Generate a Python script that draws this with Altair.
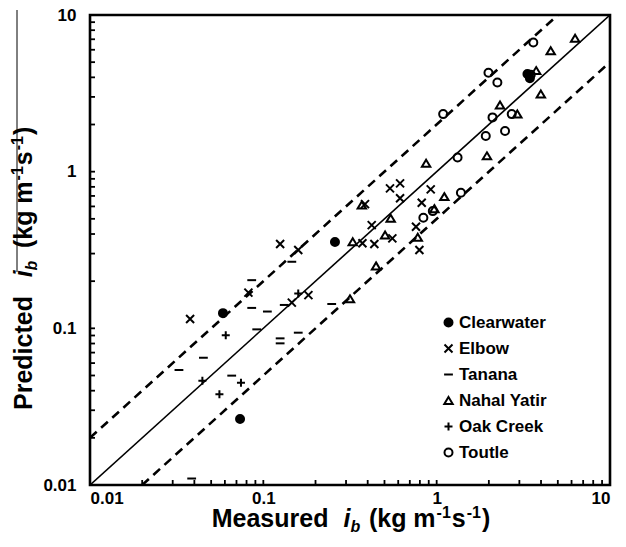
import altair as alt
import pandas as pd

# ---------------- data ----------------
sites = ["Clearwater", "Elbow", "Tanana", "Nahal Yatir", "Oak Creek", "Toutle"]

clear_x = [0.0585, 0.259, 0.0734, 3.34, 3.45]
clear_y = [0.125, 0.356, 0.0264, 4.20, 3.95]

elbow_x = [0.0378, 0.125, 0.159, 0.082, 0.182, 0.146, 0.538, 0.615, 0.924, 0.615,
           0.386, 0.820, 0.422, 0.760, 0.373, 0.437, 0.555, 0.795]
elbow_y = [0.1147, 0.345, 0.316, 0.169, 0.163, 0.146, 0.782, 0.842, 0.771, 0.676,
           0.621, 0.634, 0.456, 0.445, 0.349, 0.345, 0.375, 0.316]

tanana_x = [0.146, 0.0857, 0.0857, 0.1055, 0.132, 0.248, 0.0916, 0.125, 0.125,
            0.159, 0.0451, 0.0326, 0.0657, 0.0386]
tanana_y = [0.266, 0.203, 0.135, 0.128, 0.141, 0.143, 0.0985, 0.0863, 0.0802,
            0.0938, 0.0649, 0.0542, 0.0499, 0.0110]

nahal_x = [0.869, 1.107, 0.370, 0.543, 0.97, 0.328, 0.504, 0.778, 0.447, 0.316,
           6.29, 4.55, 3.75, 3.99, 2.32, 2.92, 1.95]
nahal_y = [1.13, 0.692, 0.612, 0.504, 0.58, 0.357, 0.394, 0.381, 0.250, 0.154,
           7.09, 5.91, 4.41, 3.13, 2.66, 2.33, 1.26]

oak_x = [0.159, 0.0607, 0.0445, 0.0743, 0.0558]
oak_y = [0.167, 0.0902, 0.0463, 0.045, 0.0379]

toutle_x = [0.838, 0.95, 1.38, 1.32, 1.09, 1.99, 2.24, 3.61, 3.49, 2.10, 2.71, 2.48, 1.92]
toutle_y = [0.508, 0.56, 0.733, 1.23, 2.33, 4.28, 3.71, 6.68, 4.15, 2.22, 2.33, 1.82, 1.69]

axis_values = [0.01, 0.1, 1, 10]
minor_ticks = [m * d for d in [0.01, 0.1, 1] for m in range(2, 10)] + [0.1, 1]

# reference lines: 1:1, 2:1 and 1:2
line_11_x = [0.01, 10]
line_11_y = [0.01, 10]
line_up_x = [0.01, 5]
line_up_y = [0.02, 10]
line_lo_x = [0.02, 10]
line_lo_y = [0.01, 5]

# ---------------- build tables ----------------
rows = []
for s, xs, ys in zip(sites,
                     [clear_x, elbow_x, tanana_x, nahal_x, oak_x, toutle_x],
                     [clear_y, elbow_y, tanana_y, nahal_y, oak_y, toutle_y]):
    for a, b in zip(xs, ys):
        rows.append({"site": s, "x": a, "y": b})
df = pd.DataFrame(rows)

FONT = "Liberation Sans"
W, H = 520, 470
L, T = 90, 15

xscale = alt.Scale(type="log", domain=[0.01, 10], nice=False)
yscale = alt.Scale(type="log", domain=[0.01, 10], nice=False)

shape_range = ["circle",
               "M-1,-1L1,1M-1,1L1,-1",
               "M-1.1,0L1.1,0",
               "M0,-0.9L1.05,0.85L-1.05,0.85Z",
               "M-1,0L1,0M0,-1L0,1",
               "circle"]
fill_range = ["black", "transparent", "transparent", "transparent", "transparent", "transparent"]
stroke_range = ["black"] * 6

legend = alt.Legend(orient="none", legendX=350, legendY=299, title=None,
                    labelFont=FONT, labelFontWeight="bold", labelFontSize=17,
                    labelColor="black", symbolSize=64, symbolStrokeWidth=2,
                    rowPadding=8, labelOffset=2, padding=0)

xaxis = alt.Axis(values=axis_values, format="~g", ticks=False, domain=False, grid=False,
                 labelFont=FONT, labelFontWeight="bold", labelFontSize=17,
                 labelColor="black", labelPadding=5, title=None)
yaxis = alt.Axis(values=axis_values, format="~g", ticks=False, domain=False, grid=False,
                 labelFont=FONT, labelFontWeight="bold", labelFontSize=17,
                 labelColor="black", labelPadding=14, title=None)

points = alt.Chart(df).mark_point(filled=False, strokeWidth=2, size=64, opacity=1).encode(
    x=alt.X("x:Q", scale=xscale, axis=xaxis),
    y=alt.Y("y:Q", scale=yscale, axis=yaxis),
    shape=alt.Shape("site:N", scale=alt.Scale(domain=sites, range=shape_range), legend=legend),
    fill=alt.Fill("site:N", scale=alt.Scale(domain=sites, range=fill_range), legend=legend),
    stroke=alt.Stroke("site:N", scale=alt.Scale(domain=sites, range=stroke_range), legend=legend),
)

def ref_line(xs, ys, dash):
    d = pd.DataFrame({"x": xs, "y": ys})
    kw = dict(color="black", strokeWidth=2.6 if dash else 1.6, clip=True)
    if dash:
        kw["strokeDash"] = [9, 6]
    return alt.Chart(d).mark_line(**kw).encode(
        x=alt.X("x:Q", scale=xscale), y=alt.Y("y:Q", scale=yscale))

lines = [ref_line(line_11_x, line_11_y, False),
         ref_line(line_up_x, line_up_y, True),
         ref_line(line_lo_x, line_lo_y, True)]

tick_df = pd.DataFrame({"v": minor_ticks})
xticks = alt.Chart(tick_df).mark_rule(color="black", strokeWidth=1.8).encode(
    x=alt.X("v:Q", scale=xscale), y=alt.value(H), y2=alt.value(H - 5))
yticks = alt.Chart(tick_df).mark_rule(color="black", strokeWidth=1.8).encode(
    y=alt.Y("v:Q", scale=yscale), x=alt.value(0), x2=alt.value(5))

frame = alt.Chart(pd.DataFrame({"a": [0]})).mark_rect(
    fill="transparent", stroke="black", strokeWidth=2.6).encode(
    x=alt.value(0), x2=alt.value(W), y=alt.value(0), y2=alt.value(H))

# ---------------- axis titles built from pieces ----------------
WID = {"P": 667, "r": 389, "e": 556, "d": 611, "i": 278, "c": 556, "t": 333, " ": 278,
       "M": 833, "a": 556, "s": 556, "u": 611, "b": 611, "(": 333, ")": 333, "k": 556,
       "g": 611, "m": 889, "-": 333, "1": 556}

def pw(s, size):
    return sum(WID[c] for c in s) / 1000 * size

BIG, SMALL = 25, 16

def pieces(first, g1, g2):
    return [(first, BIG, False, 0, g1),
            ("i", BIG, True, 0, 0),
            ("b", SMALL, True, 5, g2),
            ("(kg m", BIG, False, 0, 1),
            ("-1", SMALL, False, -9, 1),
            ("s", BIG, False, 0, 1),
            ("-1", SMALL, False, -9, 1),
            (")", BIG, False, 0, 0)]

def text_layer(txt, size, italic, x, y, angle):
    return alt.Chart(pd.DataFrame({"t": [txt]})).mark_text(
        font=FONT, fontWeight="bold", fontSize=size,
        fontStyle="italic" if italic else "normal",
        align="left", baseline="alphabetic", angle=angle, color="black"
    ).encode(text="t:N", x=alt.value(x), y=alt.value(y))

title_layers = []
# x title
xp = pieces("Measured", 0.6 * BIG, 0.35 * BIG)
total = sum(pw(t, s) + gap for t, s, it, dy, gap in xp)
cx = 351 - total / 2 - L
for t, s, it, dy, gap in xp:
    title_layers.append(text_layer(t, s, it, cx, 527 - T + dy, 0))
    cx += pw(t, s) + gap
# y title (rotated, reading upward)
yp = pieces("Predicted", 0.75 * BIG, 0.5 * BIG)
cy = 410 - T
for t, s, it, dy, gap in yp:
    title_layers.append(text_layer(t, s, it, 32 - L + dy, cy, 270))
    cy -= pw(t, s) + gap

overline = alt.Chart(pd.DataFrame({"a": [0]})).mark_rule(color="black", strokeWidth=1).encode(
    x=alt.value(17 - L), y=alt.value(10 - T), y2=alt.value(272 - T))

chart = alt.layer(*lines, xticks, yticks, points, frame, *title_layers, overline).properties(
    width=W, height=H,
    autosize=alt.AutoSizeParams(type="none"),
    padding={"left": L, "top": T, "right": 626 - L - W, "bottom": 547 - T - H},
).configure_view(stroke="black", strokeWidth=2.6).configure(font=FONT, background="white")

chart.save("out.html", embed_options={"renderer": "svg", "actions": False})
